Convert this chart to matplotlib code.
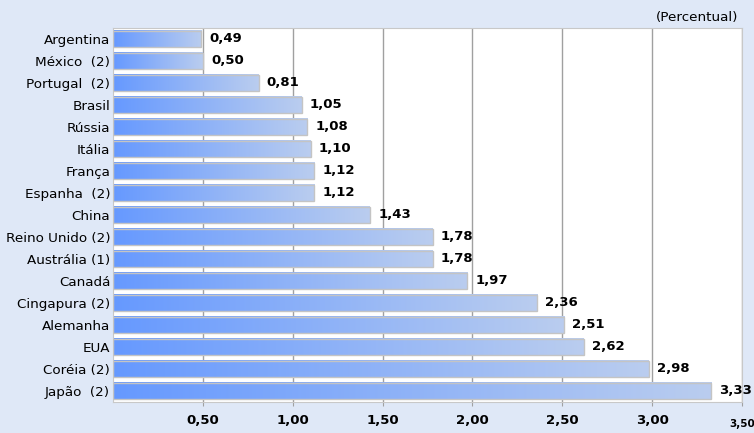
import numpy as np
import matplotlib
matplotlib.use('Agg')
import matplotlib.pyplot as plt
from matplotlib.colors import LinearSegmentedColormap

# Data
countries = ['Argentina', 'México  (2)', 'Portugal  (2)', 'Brasil', 'Rússia', 'Itália',
             'França', 'Espanha  (2)', 'China', 'Reino Unido (2)', 'Austrália (1)',
             'Canadá', 'Cingapura (2)', 'Alemanha', 'EUA', 'Coréia (2)', 'Japão  (2)']
values = [0.49, 0.50, 0.81, 1.05, 1.08, 1.10, 1.12, 1.12, 1.43, 1.78, 1.78,
          1.97, 2.36, 2.51, 2.62, 2.98, 3.33]
xticks = [0.5, 1.0, 1.5, 2.0, 2.5, 3.0, 3.5]
xtick_labels = ['0,50', '1,00', '1,50', '2,00', '2,50', '3,00']

bg = '#dfe8f7'
cmap = LinearSegmentedColormap.from_list('bar', ['#6699ff', '#bacdef'])
grad = np.linspace(0, 1, 256).reshape(1, -1)

fig = plt.figure(figsize=(7.54, 4.33), dpi=100, facecolor=bg)
ax = fig.add_axes([113 / 754, 31 / 433, 629 / 754, 374 / 433])
ax.set_facecolor('white')

y = np.arange(len(countries))
h = 0.76
for i, v in enumerate(values):
    ax.imshow(grad, extent=[0, v, i + h / 2, i - h / 2], aspect='auto',
              cmap=cmap, zorder=2, interpolation='bicubic')
    ax.text(v + 0.045, i, f'{v:.2f}'.replace('.', ','), va='center', ha='left',
            fontsize=9.5, fontweight='bold', color='black', zorder=4)
ax.barh(y, values, height=h, color='none', edgecolor='#c4c4c4', linewidth=1, zorder=3)

ax.set_xlim(0, 3.5)
ax.set_ylim(len(countries) - 0.5, -0.5)
ax.set_yticks(y)
ax.set_yticklabels(countries, fontsize=9.7)
ax.tick_params(axis='y', length=0, pad=2)

ax.set_xticks(xticks)
ax.set_xticklabels(xtick_labels + [''], fontsize=9.5, fontweight='bold')
ax.tick_params(axis='x', length=3, color='#a0a0a0', pad=6)
ax.text(3.5, -0.045, '3,50', transform=ax.get_xaxis_transform(), ha='center',
        va='top', fontsize=7.5, fontweight='bold')

ax.grid(axis='x', color='#a0a0a0', linewidth=1, zorder=1)
ax.set_axisbelow(True)
for s in ax.spines.values():
    s.set_color('#c8c8c8')

fig.text(738 / 754, 1 - 17 / 433, '(Percentual)', ha='right', va='center', fontsize=9.7)

fig.savefig('out.png', dpi=100, facecolor=bg)
